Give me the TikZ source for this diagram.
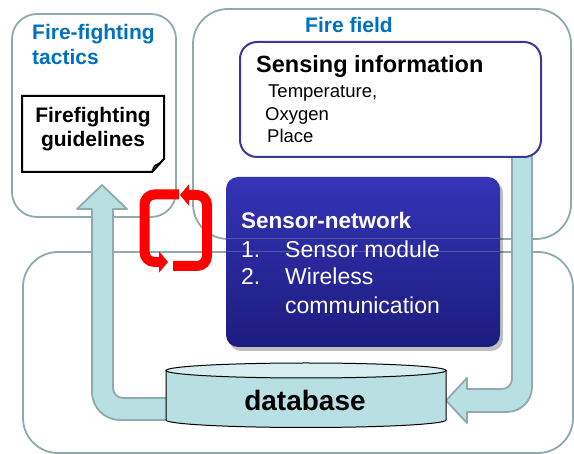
\documentclass[tikz,border=0pt]{standalone}
\usepackage{fontspec}
\setmainfont{Liberation Sans}
\usetikzlibrary{arrows.meta}
\definecolor{frame}{RGB}{143,170,172}
\definecolor{tealfill}{RGB}{184,223,226}
\definecolor{tealtop}{RGB}{214,238,240}
\definecolor{titleblue}{RGB}{0,112,192}
\definecolor{senseborder}{RGB}{56,56,150}
\definecolor{nettop}{RGB}{52,52,182}
\definecolor{netmid}{RGB}{40,40,165}
\definecolor{netbot}{RGB}{28,28,128}
\begin{document}
\begin{tikzpicture}[x=1pt,y=-1pt,
  panel/.style={draw=frame, line width=1.8pt},
  bigarrow/.style={fill=tealfill, draw=frame, line width=1.8pt, line join=round},
  redflow/.style={draw=red, line width=10pt, rounded corners=10pt, -{Triangle[width=21pt,length=9pt]}},
  txt/.style={inner sep=0pt, anchor=base west},
  ttl/.style={txt, text=titleblue, font=\bfseries\fontsize{21}{25}\selectfont},
  boldtxt/.style={inner sep=0pt, anchor=base, font=\bfseries\fontsize{21}{25}\selectfont},
  sensetxt/.style={txt, font=\fontsize{18.5}{22}\selectfont},
  nettxt/.style={txt, text=white, font=\fontsize{23}{27}\selectfont},
]
\useasboundingbox (0,0) rectangle (574,454);
% outline panels
\draw[panel, rounded corners=25pt] (12,14) rectangle (176,217);
\draw[panel, rounded corners=35pt] (193,9) rectangle (571,239);
\draw[panel, rounded corners=35pt] (23,252) rectangle (573,453);
% titles
\node[ttl] (tac1) at (32,40) {Fire-fighting};
\node[ttl] (tac2) at (32,65) {tactics};
\node[ttl, anchor=base] (field) at (349,33) {Fire field};
% big teal arrows
\draw[bigarrow] (180,398) -- (123,398) .. controls (117.5,398) and (113,393.5) .. (113,388)
  -- (113,209) -- (127,209) -- (102,185) -- (77,209) -- (92,209) -- (92,392)
  .. controls (92,407.5) and (104.5,420) .. (120,420) -- (180,420) -- cycle;
\draw[bigarrow] (512,150) -- (512,379) .. controls (512,384.5) and (507.5,389) .. (502,389)
  -- (467,389) -- (467,378) -- (446,400.5) -- (467,423) -- (467,412) -- (507,412)
  .. controls (520.8,412) and (532,400.8) .. (532,387) -- (532,150) -- cycle;
% sensing information
\node[draw=senseborder, line width=2pt, fill=white, rounded corners=17pt,
  minimum width=301pt, minimum height=115pt, inner sep=0pt] (sensing) at (390.5,99.5) {};
\node[txt, font=\bfseries\fontsize{23.5}{27}\selectfont] (senseT) at (256,73) {Sensing information};
\node[sensetxt] (s1) at (268,98) {Temperature,};
\node[sensetxt] (s2) at (265,121) {Oxygen};
\node[sensetxt] (s3) at (267,143) {Place};
% sensor network
\fill[black, opacity=0.25, rounded corners=12pt] (229,181) rectangle (503,351);
\node[rounded corners=12pt, minimum width=274pt, minimum height=170pt, inner sep=0pt,
  top color=nettop, middle color=netmid, bottom color=netbot] (sensornet) at (363,262) {};
\draw[frame, opacity=0.35, line width=1pt] (227,239) -- (499,239);
\draw[frame, opacity=0.35, line width=1pt] (227,252) -- (499,252);
\node[txt, text=white, font=\bfseries\fontsize{22.5}{26}\selectfont] (snT) at (241,229) {Sensor-network};
\node[nettxt] (n1) at (241,258) {1.};
\node[nettxt] (n1t) at (285,258) {Sensor module};
\node[nettxt] (n2) at (241,285) {2.};
\node[nettxt] (n2t) at (285,285) {Wireless};
\node[nettxt] (n3t) at (285,314) {communication};
% database
\filldraw[fill=tealfill, draw=black, line width=1pt] (166,370.5) -- (166,420)
  .. controls (166,424.14) and (228.7,427.5) .. (306,427.5)
  .. controls (383.3,427.5) and (446,424.14) .. (446,420) -- (446,370.5) -- cycle;
\filldraw[fill=tealtop, draw=black, line width=1pt] (306,370.5) ellipse [x radius=140pt, y radius=7.5pt];
\node[inner sep=0pt, anchor=base, font=\bfseries\fontsize{28}{32}\selectfont] (db) at (305,411) {database};
% red cycle arrows
\draw[redflow] (179,194.5) -- (144.5,194.5) -- (144.5,262) -- (168,262);
\draw[redflow] (173,266) -- (207,266) -- (207,195) -- (180,195);
% guidelines note
\draw[line width=2pt, fill=white, line join=miter] (22,96) -- (164,96) -- (164,159) -- (152,172) -- (22,172) -- cycle;
\draw[line width=1.5pt] (152,172) .. controls (154,166) .. (158,164) .. controls (160,163) .. (164,159);
\node[boldtxt] (guide1) at (93,123) {Firefighting};
\node[boldtxt] (guide2) at (93,147) {guidelines};
\end{tikzpicture}
\end{document}
